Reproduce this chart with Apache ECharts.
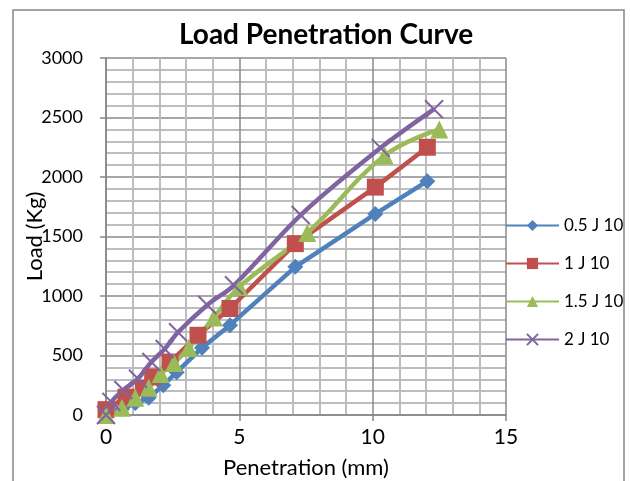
<!DOCTYPE html>
<html>
<head>
<meta charset="utf-8">
<script src="https://cdn.jsdelivr.net/npm/echarts@6/dist/echarts.min.js"></script>
<style>
    html, body { margin: 0; padding: 0; background: #fff; }
    #load-chart { width: 630px; height: 481px; }
</style>
</head>
<body>
<div id="load-chart"></div>
<script>
// ---DATA (penetration in mm, load in kg)
var seriesNames = ['0.5 J 10', '1 J 10', '1.5 J 10', '2 J 10'];

var penBlue = [0, 0.6, 1.1, 1.6, 2.15, 2.65, 3.6, 4.65, 7.1, 10.1, 12.05];
var loadBlue = [0, 50, 100, 145, 250, 360, 565, 755, 1245, 1690, 1965];

var penRed = [0, 0.75, 1.4, 1.75, 2.4, 3.45, 4.65, 7.1, 10.1, 12.05];
var loadRed = [45, 150, 225, 320, 445, 670, 895, 1440, 1915, 2250];

var penGreen = [0, 0.6, 1.1, 1.6, 2.05, 2.55, 3.1, 4.05, 5.0, 7.55, 10.45, 12.5];
var loadGreen = [0, 60, 145, 230, 345, 437, 563, 820, 1076, 1530, 2180, 2400];

var penPurple = [0, 0.2, 0.65, 1.2, 1.7, 2.2, 2.7, 3.8, 4.8, 7.3, 10.3, 12.3];
var loadPurple = [0, 110, 210, 305, 445, 555, 695, 925, 1090, 1680, 2245, 2570];

var xTicks = [0, 5, 10, 15];
var yTicks = [0, 500, 1000, 1500, 2000, 2500, 3000];

function pairs(xs, ys) {
    var out = [];
    for (var i = 0; i < xs.length; i++) {
        out.push([xs[i], ys[i]]);
    }
    return out;
}

var fontName = 'Lato';

function axisCommon(name, ticks) {
    return {
        type: 'value',
        min: ticks[0],
        max: ticks[ticks.length - 1],
        interval: ticks[1] - ticks[0],
        name: name,
        nameLocation: 'middle',
        nameMoveOverlap: false,
        nameTextStyle: { color: '#000', fontSize: 22, fontFamily: fontName },
        axisLine: { show: true, lineStyle: { color: '#868686', width: 1.5 } },
        axisTick: { show: true, inside: false, length: 6, lineStyle: { color: '#868686', width: 1.5 } },
        axisLabel: {
            color: '#000', fontSize: 18, fontFamily: fontName,
            formatter: function (v) { return String(v); }
        },
        splitLine: { show: true, lineStyle: { color: '#8a8a8a', width: 1.5 } },
        minorTick: { show: false, splitNumber: 5 },
        minorSplitLine: { show: true, lineStyle: { color: '#bdbdbd', width: 2 } }
    };
}

var xAxis = axisCommon('Penetration (mm)', xTicks);
xAxis.nameGap = 42;
xAxis.axisLabel.margin = 12;
xAxis.axisLabel.fontSize = 21;

var yAxis = axisCommon('Load (Kg)', yTicks);
yAxis.nameGap = 60;
yAxis.axisLabel.margin = 23;

function lineSeries(name, data, color, symbol, size, smooth) {
    return {
        name: name,
        type: 'line',
        data: data,
        smooth: smooth,
        symbol: symbol,
        symbolSize: size,
        showAllSymbol: true,
        lineStyle: { color: color, width: 4.5 },
        itemStyle: { color: color, borderColor: color, borderWidth: 0 },
        emphasis: { disabled: true }
    };
}

var loadChart = echarts.init(document.getElementById('load-chart'));

var purpleSeries = lineSeries(seriesNames[3], pairs(penPurple, loadPurple), '#8064A2',
    'path://M0,0L10,10M10,0L0,10', 18, 0.3);
purpleSeries.itemStyle.borderWidth = 2;

var option = {
    animation: false,
    textStyle: { fontFamily: fontName },
    title: {
        text: 'Load Penetration Curve',
        left: 174,
        top: 16,
        textStyle: { fontSize: 28, fontWeight: 'bold', color: '#000', fontFamily: fontName }
    },
    legend: {
        orient: 'vertical',
        left: 500,
        top: 212,
        itemWidth: 53,
        itemHeight: 14,
        itemGap: 21,
        textStyle: { fontSize: 17, color: '#000', fontFamily: fontName },
        data: seriesNames
    },
    grid: {
        left: 106,
        right: 124,
        top: 58,
        bottom: 66,
        containLabel: false,
        outerBoundsMode: 'none'
    },
    xAxis: xAxis,
    yAxis: yAxis,
    graphic: [{
        type: 'rect',
        shape: { x: 13, y: 10, width: 611, height: 500 },
        style: { fill: 'none', stroke: '#868686', lineWidth: 1.5 },
        silent: true,
        z: -1
    }],
    series: [
        lineSeries(seriesNames[0], pairs(penBlue, loadBlue), '#4F81BD', 'diamond', 16, false),
        lineSeries(seriesNames[1], pairs(penRed, loadRed), '#C0504D', 'rect', 17, false),
        lineSeries(seriesNames[2], pairs(penGreen, loadGreen), '#9BBB59', 'triangle', 18, 0.4),
        purpleSeries
    ]
};

loadChart.setOption(option);
</script>
</body>
</html>
